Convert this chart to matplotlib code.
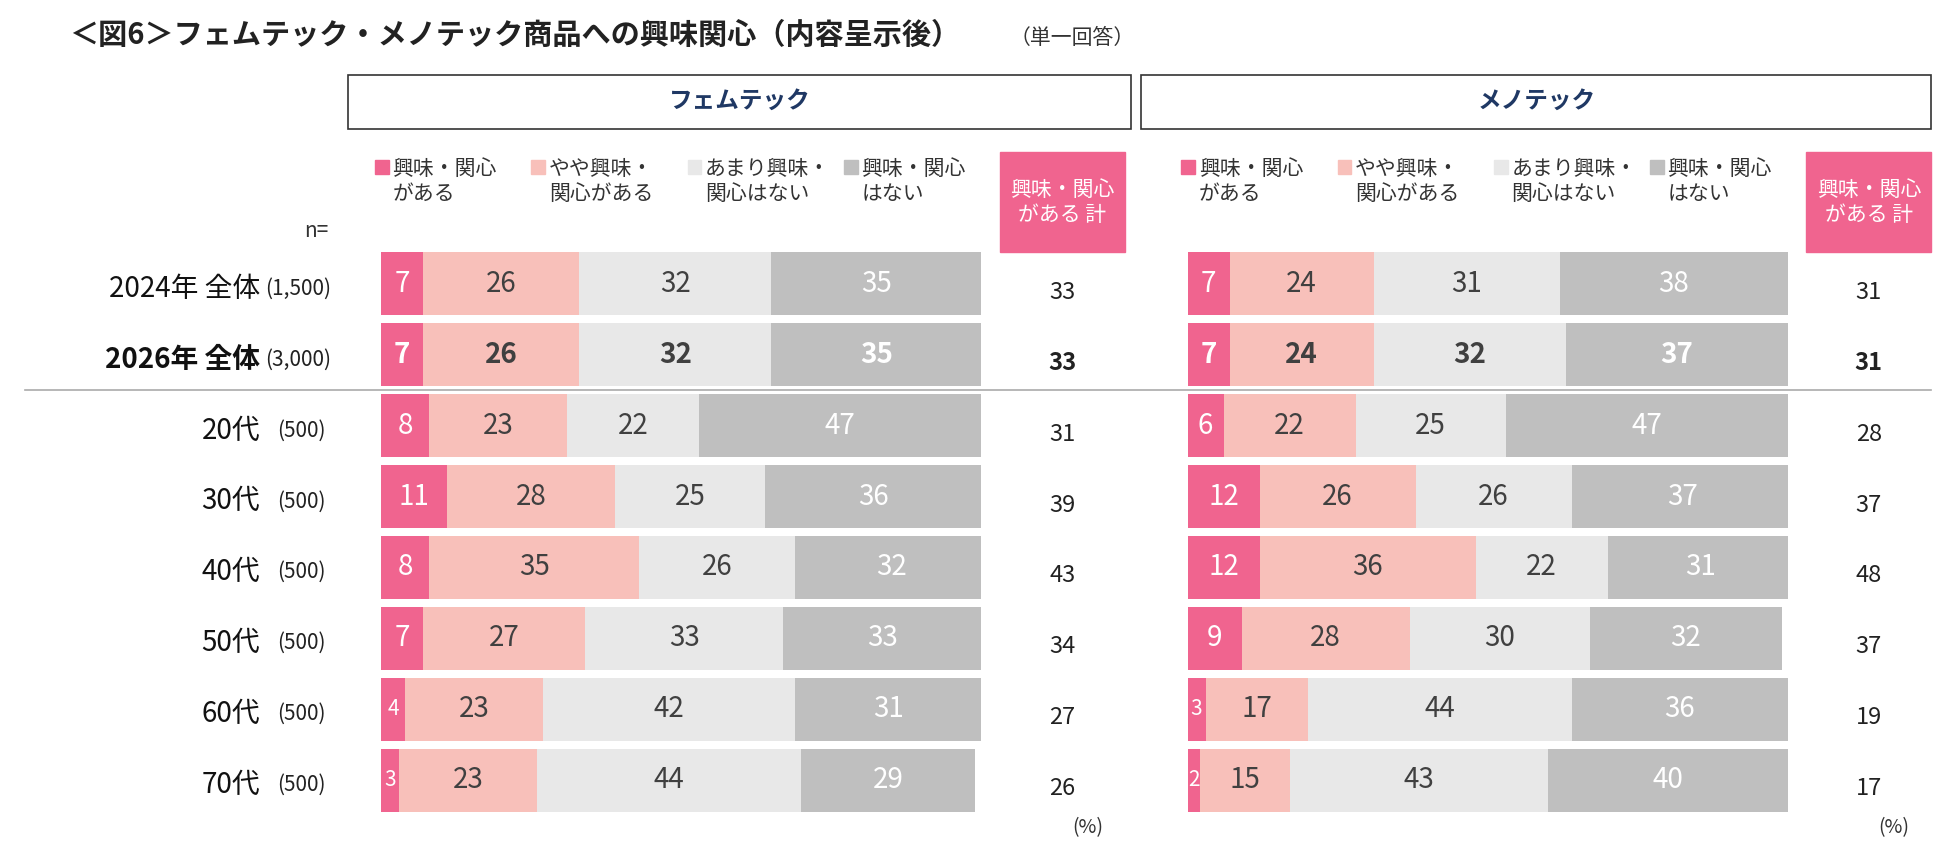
import numpy as np
import matplotlib.pyplot as plt

plt.rcParams['font.family'] = ['Noto Sans CJK JP', 'DejaVu Sans']

rows = ['2024年 全体', '2026年 全体', '20代', '30代', '40代', '50代', '60代', '70代']
ns = ['(1,500)', '(3,000)', '(500)', '(500)', '(500)', '(500)', '(500)', '(500)']
legend_labels = ['興味・関心\nがある', 'やや興味・\n関心がある', 'あまり興味・\n関心はない', '興味・関心\nはない']

femtech = np.array([[7, 26, 32, 35], [7, 26, 32, 35], [8, 23, 22, 47], [11, 28, 25, 36],
                    [8, 35, 26, 32], [7, 27, 33, 33], [4, 23, 42, 31], [3, 23, 44, 29]])
femtech_total = [33, 33, 31, 39, 43, 34, 27, 26]
menotech = np.array([[7, 24, 31, 38], [7, 24, 32, 37], [6, 22, 25, 47], [12, 26, 26, 37],
                     [12, 36, 22, 31], [9, 28, 30, 32], [3, 17, 44, 36], [2, 15, 43, 40]])
menotech_total = [31, 31, 28, 37, 48, 37, 19, 17]

colors = ['#F0648F', '#F8C0BA', '#E8E8E8', '#BFBFBF']
txt_colors = ['white', '#404040', '#404040', 'white']

W, H = 1560, 684  # layout measured on the displayed reference
fig = plt.figure(figsize=(19.5, 8.55), dpi=100)

def fx(x): return x / W
def fy(y): return 1 - y / H

fig.text(fx(55), fy(28), '＜図6＞フェムテック・メノテック商品への興味関心（内容呈示後）', fontsize=21,
         fontweight='bold', va='center', color='#222222')
fig.text(fx(808), fy(30), '（単一回答）', fontsize=15, va='center', color='#333333')

panels = [('フェムテック', femtech, femtech_total, 305, 278, 905, 850),
          ('メノテック', menotech, menotech_total, 950, 913, 1545, 1495)]

for name, data, total, bx, hx0, hx1, tx in panels:
    ax = fig.add_axes([fx(bx), fy(652.4), fx(480), 453.6 / H])
    left = np.zeros(len(rows))
    for k in range(4):
        ax.barh(range(len(rows)), data[:, k], left=left, height=0.89, color=colors[k])
        for i, v in enumerate(data[:, k]):
            fs = 20 if v >= 5 else 15
            ax.text(left[i] + v / 2, i, str(v), ha='center', va='center', fontsize=fs,
                    color=txt_colors[k], fontweight='bold' if i == 1 else 'normal')
        left += data[:, k]
    ax.set_xlim(0, 100)
    ax.set_ylim(7.5, -0.5)
    ax.axis('off')
    for i, t in enumerate(total):
        fig.text(fx(tx), fy(234 + 56.7 * i), str(t), ha='center', va='center', fontsize=17,
                 fontweight='bold' if i == 1 else 'normal', color='#222222')
    # header box
    fig.patches.append(plt.Rectangle((fx(hx0), fy(103)), fx(hx1 - hx0), 43 / H, transform=fig.transFigure,
                                     fill=False, edgecolor='#333333', lw=1.2))
    fig.text(fx((hx0 + hx1) / 2), fy(81), name, ha='center', va='center', fontsize=17,
             fontweight='bold', color='#1F3864')
    # legend
    for k, lab in enumerate(legend_labels):
        lx = bx - 5 + k * 125
        fig.patches.append(plt.Rectangle((fx(lx), fy(139)), fx(11), 11 / H, transform=fig.transFigure,
                                         color=colors[k]))
        fig.text(fx(lx + 14), fy(145), lab, ha='left', va='center', fontsize=15,
                 color='#333333', linespacing=1.15)
    # total header
    fig.patches.append(plt.Rectangle((fx(tx - 50), fy(202)), fx(100), 80 / H, transform=fig.transFigure,
                                     color='#F0648F'))
    fig.text(fx(tx), fy(162), '興味・関心\nがある 計', ha='center', va='center', fontsize=15,
             color='white', linespacing=1.15)
    fig.text(fx(tx + 20), fy(662), '(%)', ha='center', va='center', fontsize=14, color='#333333')

fig.text(fx(253), fy(185), 'n=', ha='center', va='center', fontsize=15, color='#333333')
for i, (r, n) in enumerate(zip(rows, ns)):
    y = fy(231 + 56.7 * i)
    bold = 'bold' if i == 1 else 'normal'
    if i < 2:
        fig.text(fx(208), y, r, ha='right', va='center', fontsize=20, fontweight=bold, color='#111111')
        fig.text(fx(212), y, n, ha='left', va='center', fontsize=15, color='#222222')
    else:
        fig.text(fx(208), y, r, ha='right', va='center', fontsize=20, color='#111111')
        fig.text(fx(222), y, n, ha='left', va='center', fontsize=15, color='#222222')

fig.add_artist(plt.Line2D([fx(20), fx(1545)], [fy(312), fy(312)], color='#AAAAAA', lw=1.2))

fig.savefig('out.png', dpi=100, facecolor='white')
